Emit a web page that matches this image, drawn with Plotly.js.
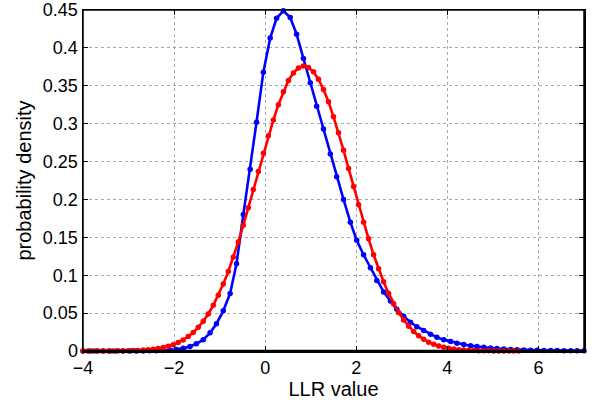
<!DOCTYPE html>
<html>
<head>
<meta charset="utf-8">
<script src="https://cdn.plot.ly/plotly-3.0.1.min.js"></script>
<style>html,body{margin:0;padding:0;background:#fff;}#chart{width:594px;height:400px;}</style>
</head>
<body>
<div id="chart"></div>
<script>
// Blue series (x positions and densities)
const blueX = [-4.00,-3.85,-3.71,-3.56,-3.41,-3.27,-3.12,-2.97,-2.83,-2.68,
  -2.53,-2.39,-2.24,-2.09,-1.95,-1.80,-1.65,-1.51,-1.36,-1.21,
  -1.07,-0.92,-0.77,-0.63,-0.48,-0.33,-0.19,-0.04,0.11,0.25,
  0.40,0.55,0.69,0.84,0.99,1.13,1.28,1.43,1.57,1.72,
  1.87,2.01,2.16,2.31,2.45,2.60,2.75,2.89,3.04,3.19,
  3.33,3.48,3.63,3.77,3.92,4.07,4.21,4.36,4.51,4.65,
  4.80,4.95,5.09,5.24,5.39,5.53,5.68,5.83,5.97,6.12,
  6.27,6.41,6.56,6.71,6.85,7.00];
const blueY = [0.0000,0.0000,0.0000,0.0000,0.0000,0.0000,0.0001,0.0001,0.0001,0.0001,
  0.0002,0.0004,0.0007,0.0012,0.0020,0.0035,0.0060,0.0095,0.0150,0.0240,
  0.0360,0.0530,0.0760,0.1150,0.1800,0.2400,0.3020,0.3680,0.4130,0.4390,
  0.4490,0.4400,0.4180,0.3860,0.3540,0.3230,0.2930,0.2600,0.2300,0.2000,
  0.1700,0.1460,0.1270,0.1100,0.0930,0.0780,0.0660,0.0550,0.0460,0.0380,
  0.0320,0.0270,0.0220,0.0180,0.0150,0.0125,0.0103,0.0085,0.0070,0.0058,
  0.0048,0.0039,0.0032,0.0026,0.0021,0.0017,0.0014,0.0011,0.0009,0.0007,
  0.0006,0.0005,0.0004,0.0003,0.0003,0.0002];
// Red series
const redX = [-4.00,-3.89,-3.78,-3.67,-3.56,-3.45,-3.34,-3.23,-3.12,-3.01,
  -2.90,-2.79,-2.68,-2.57,-2.46,-2.35,-2.24,-2.13,-2.02,-1.91,
  -1.80,-1.69,-1.58,-1.47,-1.36,-1.25,-1.14,-1.03,-0.92,-0.81,
  -0.70,-0.59,-0.48,-0.37,-0.26,-0.15,-0.04,0.07,0.18,0.29,
  0.40,0.51,0.62,0.73,0.84,0.95,1.06,1.17,1.28,1.39,
  1.50,1.61,1.72,1.83,1.94,2.05,2.16,2.27,2.38,2.49,
  2.60,2.71,2.82,2.93,3.04,3.15,3.26,3.37,3.48,3.59,
  3.70,3.81,3.92,4.03,4.14,4.25,4.36,4.47,4.58,4.69,
  4.80,4.91,5.02,5.13,5.24,5.35,5.46,5.57];
const redY = [0.0000,0.0000,0.0000,0.0000,0.0001,0.0001,0.0001,0.0002,0.0003,0.0004,
  0.0006,0.0008,0.0012,0.0017,0.0024,0.0033,0.0046,0.0062,0.0083,0.0111,
  0.0146,0.0191,0.0245,0.0312,0.0393,0.0489,0.0603,0.0736,0.0883,0.1050,
  0.1240,0.1440,0.1660,0.1890,0.2130,0.2370,0.2610,0.2840,0.3050,0.3250,
  0.3420,0.3570,0.3670,0.3735,0.3760,0.3742,0.3684,0.3587,0.3450,0.3290,
  0.3090,0.2880,0.2650,0.2410,0.2170,0.1930,0.1700,0.1480,0.1270,0.1084,
  0.0913,0.0759,0.0625,0.0509,0.0410,0.0326,0.0256,0.0200,0.0154,0.0117,
  0.0088,0.0065,0.0048,0.0035,0.0025,0.0018,0.0013,0.0009,0.0006,0.0004,
  0.0003,0.0002,0.0001,0.0001,0.0001,0.0000,0.0000,0.0000];
const xTicks = [-4,-2,0,2,4,6];
const yTicks = [0,0.05,0.1,0.15,0.2,0.25,0.3,0.35,0.4,0.45];
const yTickText = ['0','0.05','0.1','0.15','0.2','0.25','0.3','0.35','0.4','0.45'];

const font = "Liberation Sans, Arial, Helvetica, sans-serif";
const traces = [
  {x: blueX, y: blueY, type: 'scatter', mode: 'lines+markers', cliponaxis: false,
   line: {color: '#0000ff', width: 2.6}, marker: {color: '#0000ff', size: 5.5}},
  {x: redX, y: redY, type: 'scatter', mode: 'lines+markers', cliponaxis: false,
   line: {color: '#ff0000', width: 2.6}, marker: {color: '#ff0000', size: 5.5}}
];
const axisCommon = {
  showline: true, linecolor: '#000', linewidth: 1.5, mirror: 'allticks',
  ticks: 'inside', ticklen: 5, tickcolor: '#000',
  showgrid: true, gridcolor: '#a8a8a8', griddash: 'dot', gridwidth: 1,
  zeroline: false, tickfont: {family: font, size: 18, color: '#000'}
};
const layout = {
  width: 594, height: 400,
  margin: {l: 83, r: 10, t: 10, b: 49},
  paper_bgcolor: '#fff', plot_bgcolor: '#fff',
  showlegend: false,
  xaxis: Object.assign({}, axisCommon, {
    range: [-4, 7], tickvals: xTicks, autorange: false,
    title: {text: 'LLR value', font: {family: font, size: 20, color: '#000'}, standoff: 1}
  }),
  yaxis: Object.assign({}, axisCommon, {
    range: [0, 0.45], tickvals: yTicks, ticktext: yTickText, autorange: false,
    ticklabeloverflow: 'allow',
    title: {text: 'probability density', font: {family: font, size: 20, color: '#000'}, standoff: 6}
  }),
  shapes: [
    {type: 'rect', xref: 'paper', yref: 'paper', x0: 0, x1: 1, y0: 0, y1: 1,
     line: {color: '#000', width: 1.5}, layer: 'above'},
    {type: 'line', xref: 'paper', yref: 'paper', x0: 0, x1: 1, y0: 0, y1: 0,
     line: {color: '#000', width: 2.5}, layer: 'above'}
  ]
};
Plotly.newPlot('chart', traces, layout, {displayModeBar: false, staticPlot: true});
</script>
</body>
</html>
